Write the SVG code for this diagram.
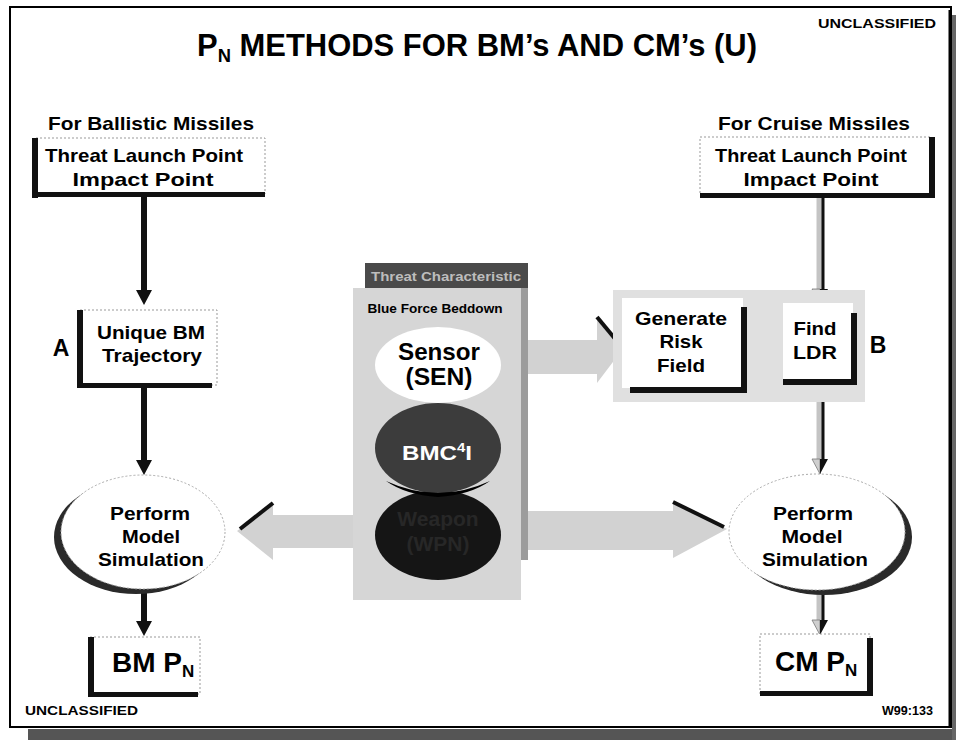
<svg xmlns="http://www.w3.org/2000/svg" width="956" height="740" viewBox="0 0 956 740">
<style>
.t{font-family:"Liberation Sans",Arial,Helvetica,sans-serif;font-weight:bold;fill:#000}
.m{text-anchor:middle}
.s18{font-size:19px}
.bar{fill:#111}
.faint{fill:#fff;stroke:#999;stroke-width:1;stroke-dasharray:2 2}
.kline{fill:none;stroke:#111;stroke-width:6}
.gline{fill:none;stroke:#c4c4c4;stroke-width:7}
.gedge{fill:none;stroke:#111;stroke-width:3}
.big{fill:#d2d2d2}
.bigedge{fill:none;stroke:#111;stroke-width:4}
</style>
<defs>
<marker id="ahK" markerUnits="userSpaceOnUse" markerWidth="20" markerHeight="20" refX="0" refY="0" orient="auto" overflow="visible">
<path d="M0,-8 L15,0 L0,8 Z" fill="#111"/>
</marker>
<marker id="ahG" markerUnits="userSpaceOnUse" markerWidth="20" markerHeight="20" refX="0" refY="0" orient="auto" overflow="visible">
<path d="M0,0 L15,0 L0,8 Z" fill="#cfcfcf" stroke="#777" stroke-width="0.8"/>
<path d="M0,0 L15,0 L0,-8 Z" fill="#111"/>
</marker>
</defs>

<g id="frame">
<rect x="0" y="0" width="956" height="740" fill="#fff"/>
<rect x="28" y="729" width="928" height="11" fill="#555"/>
<rect x="952" y="15" width="4" height="725" fill="#666"/>
<rect x="10" y="7" width="941" height="720" fill="#fff" stroke="#000" stroke-width="2"/>
<line x1="950" y1="10" x2="950" y2="727" stroke="#000" stroke-width="3"/>
</g>

<g id="header">
<text class="t" x="197" y="56" font-size="32" textLength="560" lengthAdjust="spacingAndGlyphs">P<tspan font-size="19" dy="6">N</tspan><tspan dy="-6"> METHODS FOR BM’s AND CM’s (U)</tspan></text>
<text class="t" x="818" y="28" font-size="13" textLength="118" lengthAdjust="spacingAndGlyphs">UNCLASSIFIED</text>
<text class="t" x="25" y="715" font-size="13" textLength="113" lengthAdjust="spacingAndGlyphs">UNCLASSIFIED</text>
<text class="t" x="882" y="715" font-size="12" textLength="51" lengthAdjust="spacingAndGlyphs">W99:133</text>
<text class="t m s18" x="151" y="130" textLength="206" lengthAdjust="spacingAndGlyphs">For Ballistic Missiles</text>
<text class="t m s18" x="814" y="130" textLength="192" lengthAdjust="spacingAndGlyphs">For Cruise Missiles</text>
</g>

<g id="connectors">
<path class="kline" d="M144,197 V290" marker-end="url(#ahK)"/>
<path class="kline" d="M144,388 V460" marker-end="url(#ahK)"/>
<path class="kline" d="M144,590 V621" marker-end="url(#ahK)"/>
<path class="gline" d="M820,198 V289" marker-end="url(#ahG)"/>
<line class="gedge" x1="823" y1="198" x2="823" y2="289"/>
<path class="gline" d="M820,386 V459" marker-end="url(#ahG)"/>
<line class="gedge" x1="823" y1="386" x2="823" y2="459"/>
<path class="gline" d="M820,592 V620" marker-end="url(#ahG)"/>
<line class="gedge" x1="823" y1="592" x2="823" y2="620"/>
<path d="M745,349 H765" fill="none" stroke="#111" stroke-width="5" marker-end="url(#ahK)"/>
<polygon id="arrowToRisk" class="big" points="528,340 597,340 597,317 622,350 597,383 597,374 528,374"/>
<line class="bigedge" x1="597" y1="317" x2="621" y2="346"/>
<polygon id="arrowToBM" class="big" points="353,515 273,515 273,503 237,531 273,560 273,548 353,548"/>
<line class="bigedge" x1="273" y1="503" x2="240" y2="529"/>
<polygon id="arrowToCM" class="big" points="522,511 673,511 673,502 727,529 673,558 673,550 522,550"/>
<line class="bigedge" x1="673" y1="502" x2="724" y2="527"/>
</g>

<g id="bmThreat">
<rect class="faint" x="36" y="138" width="229" height="56"/>
<rect class="bar" x="32" y="138" width="6" height="60"/>
<rect class="bar" x="32" y="192" width="233" height="5"/>
<text class="t m s18" x="144" y="162" textLength="198" lengthAdjust="spacingAndGlyphs">Threat Launch Point</text>
<text class="t m s18" x="143" y="186" textLength="141" lengthAdjust="spacingAndGlyphs">Impact Point</text>
</g>

<g id="bmTrajectory">
<rect class="faint" x="80" y="310" width="137" height="75"/>
<rect class="bar" x="77" y="310" width="6" height="78"/>
<rect class="bar" x="77" y="383" width="135" height="5"/>
<text class="t" x="61" y="356" font-size="23" text-anchor="middle">A</text>
<text class="t m s18" x="151" y="339" textLength="108" lengthAdjust="spacingAndGlyphs">Unique BM</text>
<text class="t m s18" x="152" y="362" textLength="100" lengthAdjust="spacingAndGlyphs">Trajectory</text>
</g>

<g id="bmSim">
<ellipse cx="136" cy="537" rx="82" ry="57" fill="#2a2a2a"/>
<ellipse cx="143" cy="532" rx="82" ry="57" fill="#fff" stroke="#aaa" stroke-width="1" stroke-dasharray="2 2"/>
<text class="t m s18" x="150" y="520" textLength="80" lengthAdjust="spacingAndGlyphs">Perform</text>
<text class="t m s18" x="151" y="543" textLength="58" lengthAdjust="spacingAndGlyphs">Model</text>
<text class="t m s18" x="151" y="566" textLength="106" lengthAdjust="spacingAndGlyphs">Simulation</text>
</g>

<g id="bmPn">
<rect class="faint" x="90" y="637" width="110" height="57"/>
<rect class="bar" x="88" y="637" width="6" height="60"/>
<rect class="bar" x="88" y="692" width="110" height="5"/>
<text class="t" x="112" y="672" font-size="28">BM P<tspan font-size="17" dy="5">N</tspan></text>
</g>

<g id="cmThreat">
<rect class="faint" x="700" y="137" width="232" height="58"/>
<rect class="bar" x="929" y="137" width="6" height="61"/>
<rect class="bar" x="700" y="193" width="235" height="5"/>
<text class="t m s18" x="811" y="162" textLength="192" lengthAdjust="spacingAndGlyphs">Threat Launch Point</text>
<text class="t m s18" x="811" y="186" textLength="135" lengthAdjust="spacingAndGlyphs">Impact Point</text>
</g>

<g id="riskField">
<rect x="613" y="290" width="252" height="112" fill="#e0e0e0"/>
<rect x="622" y="298" width="121" height="90" fill="#fff"/>
<rect class="bar" x="741" y="307" width="6" height="86"/>
<rect class="bar" x="630" y="387" width="117" height="6"/>
<text class="t m s18" x="681" y="325" textLength="92" lengthAdjust="spacingAndGlyphs">Generate</text>
<text class="t m s18" x="681" y="348" textLength="43" lengthAdjust="spacingAndGlyphs">Risk</text>
<text class="t m s18" x="681" y="372" textLength="48" lengthAdjust="spacingAndGlyphs">Field</text>
</g>

<g id="findLdr">
<rect x="783" y="303" width="70" height="77" fill="#fff"/>
<rect class="bar" x="851" y="313" width="6" height="72"/>
<rect class="bar" x="783" y="379" width="74" height="6"/>
<text class="t m s18" x="815" y="335" textLength="43" lengthAdjust="spacingAndGlyphs">Find</text>
<text class="t m s18" x="815" y="359" textLength="44" lengthAdjust="spacingAndGlyphs">LDR</text>
<text class="t" x="878" y="353" font-size="23" text-anchor="middle">B</text>
</g>

<g id="cmSim">
<ellipse cx="824" cy="537" rx="88" ry="58" fill="#2a2a2a"/>
<ellipse cx="817" cy="532" rx="88" ry="58" fill="#fff" stroke="#aaa" stroke-width="1" stroke-dasharray="2 2"/>
<text class="t m s18" x="813" y="520" textLength="80" lengthAdjust="spacingAndGlyphs">Perform</text>
<text class="t m s18" x="812" y="543" textLength="61" lengthAdjust="spacingAndGlyphs">Model</text>
<text class="t m s18" x="815" y="566" textLength="106" lengthAdjust="spacingAndGlyphs">Simulation</text>
</g>

<g id="cmPn">
<rect class="faint" x="760" y="634" width="110" height="60"/>
<rect class="bar" x="867" y="638" width="6" height="58"/>
<rect class="bar" x="760" y="691" width="113" height="5"/>
<text class="t" x="775" y="671" font-size="28">CM P<tspan font-size="17" dy="5">N</tspan></text>
</g>

<g id="blueForce">
<rect x="365" y="263" width="163" height="297" fill="#9c9c9c"/>
<rect x="365" y="263" width="163" height="25" fill="#4a4a4a"/>
<text class="t m" x="446" y="281" font-size="12" style="fill:#bdbdbd" textLength="150" lengthAdjust="spacingAndGlyphs">Threat Characteristic</text>
<rect x="353" y="288" width="168" height="312" fill="#d6d6d6"/>
<text class="t m" x="435" y="313" font-size="12" textLength="135" lengthAdjust="spacingAndGlyphs">Blue Force Beddown</text>
<ellipse cx="438" cy="365" rx="63" ry="38" fill="#fff"/>
<text class="t m" x="439" y="360" font-size="24" textLength="82" lengthAdjust="spacingAndGlyphs">Sensor</text>
<text class="t m" x="439" y="385" font-size="24" textLength="67" lengthAdjust="spacingAndGlyphs">(SEN)</text>
<ellipse cx="438" cy="535" rx="63" ry="45" fill="#151515"/>
<ellipse cx="438" cy="448" rx="63" ry="45" fill="#3c3c3c"/>
<path d="M386,481 Q438,505 490,481 Q470,495 438,497 Q406,495 386,481 Z" fill="#000"/>
<text class="t m" x="437" y="460" font-size="21" style="fill:#fff" textLength="70" lengthAdjust="spacingAndGlyphs">BMC<tspan font-size="13" dy="-8">4</tspan><tspan dy="8">I</tspan></text>
<text class="t m" x="438" y="526" font-size="21" style="fill:#272727">Weapon</text>
<text class="t m" x="438" y="551" font-size="21" style="fill:#272727">(WPN)</text>
</g>
</svg>
